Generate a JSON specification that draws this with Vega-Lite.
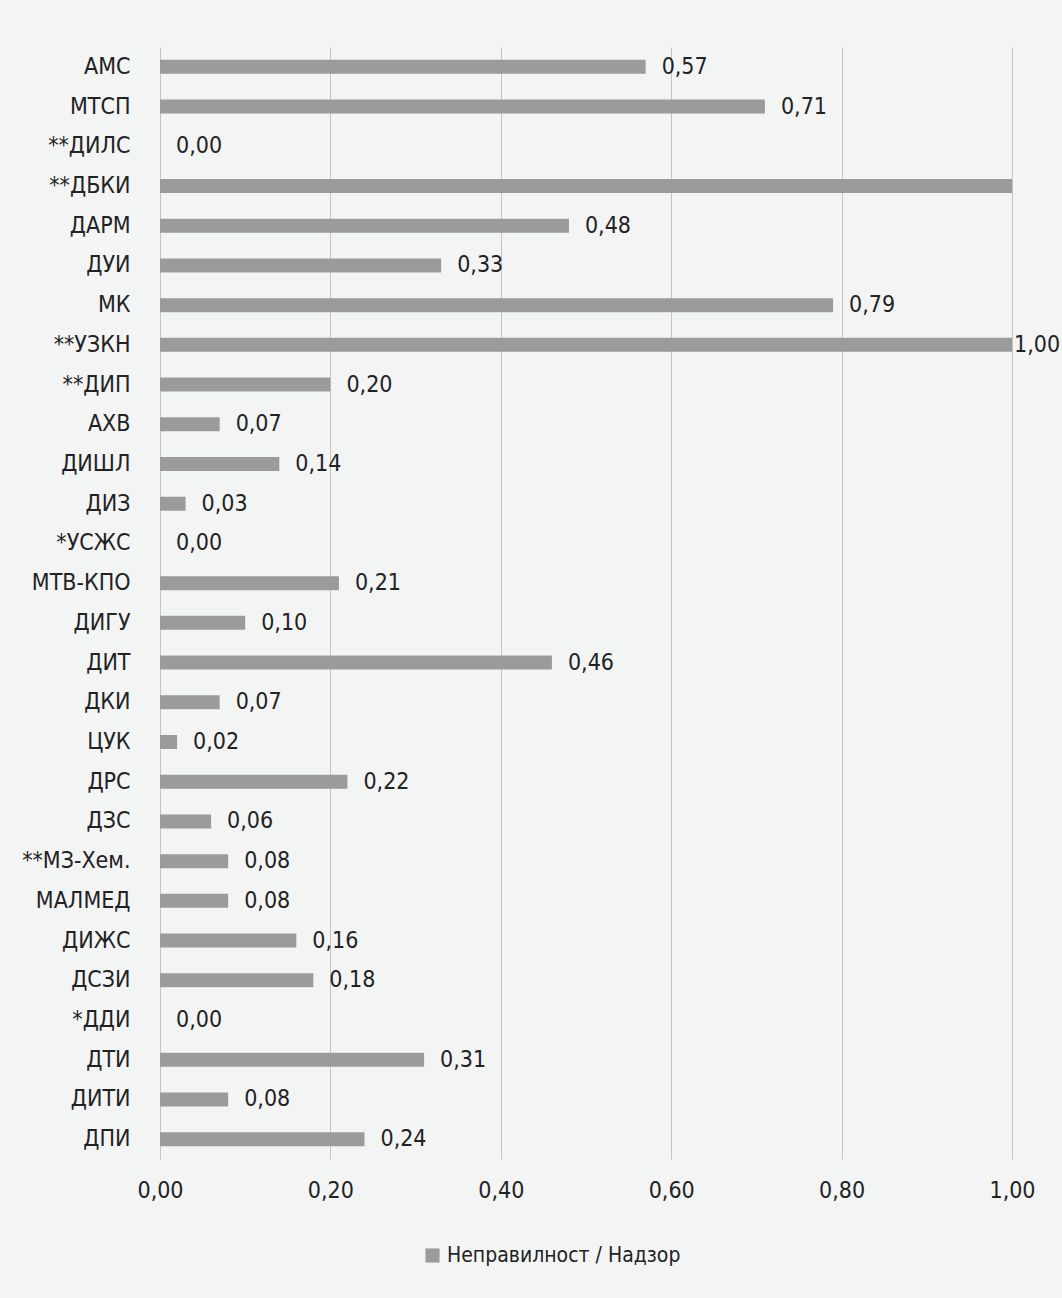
{
  "$schema": "https://vega.github.io/schema/vega-lite/v6.json",
  "autosize": {"type": "none"},
  "width": 852,
  "height": 1112,
  "padding": {"left": 160, "top": 47, "right": 50, "bottom": 139},
  "background": "#f3f4f4",
  "config": {
    "locale": {"number": {"decimal": ",", "thousands": ".", "grouping": [3], "currency": ["", ""]}},
    "font": "Liberation Sans Narrow, DejaVu Sans Condensed, sans-serif",
    "view": {"stroke": null}
  },
  "data": {
    "values": [
      {"category": "АМС", "value": 0.57, "series": "Неправилност / Надзор"},
      {"category": "МТСП", "value": 0.71, "series": "Неправилност / Надзор"},
      {"category": "**ДИЛС", "value": 0.0, "series": "Неправилност / Надзор"},
      {"category": "**ДБКИ", "value": 1.0, "series": "Неправилност / Надзор"},
      {"category": "ДАРМ", "value": 0.48, "series": "Неправилност / Надзор"},
      {"category": "ДУИ", "value": 0.33, "series": "Неправилност / Надзор"},
      {"category": "МК", "value": 0.79, "series": "Неправилност / Надзор"},
      {"category": "**УЗКН", "value": 1.0, "series": "Неправилност / Надзор"},
      {"category": "**ДИП", "value": 0.2, "series": "Неправилност / Надзор"},
      {"category": "АХВ", "value": 0.07, "series": "Неправилност / Надзор"},
      {"category": "ДИШЛ", "value": 0.14, "series": "Неправилност / Надзор"},
      {"category": "ДИЗ", "value": 0.03, "series": "Неправилност / Надзор"},
      {"category": "*УСЖС", "value": 0.0, "series": "Неправилност / Надзор"},
      {"category": "МТВ-КПО", "value": 0.21, "series": "Неправилност / Надзор"},
      {"category": "ДИГУ", "value": 0.1, "series": "Неправилност / Надзор"},
      {"category": "ДИТ", "value": 0.46, "series": "Неправилност / Надзор"},
      {"category": "ДКИ", "value": 0.07, "series": "Неправилност / Надзор"},
      {"category": "ЦУК", "value": 0.02, "series": "Неправилност / Надзор"},
      {"category": "ДРС", "value": 0.22, "series": "Неправилност / Надзор"},
      {"category": "ДЗС", "value": 0.06, "series": "Неправилност / Надзор"},
      {"category": "**МЗ-Хем.", "value": 0.08, "series": "Неправилност / Надзор"},
      {"category": "МАЛМЕД", "value": 0.08, "series": "Неправилност / Надзор"},
      {"category": "ДИЖС", "value": 0.16, "series": "Неправилност / Надзор"},
      {"category": "ДСЗИ", "value": 0.18, "series": "Неправилност / Надзор"},
      {"category": "*ДДИ", "value": 0.0, "series": "Неправилност / Надзор"},
      {"category": "ДТИ", "value": 0.31, "series": "Неправилност / Надзор"},
      {"category": "ДИТИ", "value": 0.08, "series": "Неправилност / Надзор"},
      {"category": "ДПИ", "value": 0.24, "series": "Неправилност / Надзор"}
    ]
  },
  "encoding": {
    "y": {
      "field": "category", "type": "nominal", "sort": null, "title": null,
      "axis": {"domain": false, "ticks": false, "grid": false, "labelFontSize": 23, "labelPadding": 30, "labelColor": "#222222", "labelLimit": 300}
    },
    "x": {
      "field": "value", "type": "quantitative", "title": null,
      "scale": {"domain": [0, 1]},
      "axis": {"values": [0, 0.2, 0.4, 0.6, 0.8, 1], "format": ".2f", "domain": false, "ticks": false, "grid": true, "gridColor": "#c4c4c4", "gridWidth": 1, "labelFontSize": 23, "labelPadding": 20, "labelColor": "#222222", "labelFlush": false}
    }
  },
  "layer": [
    {
      "mark": {"type": "bar", "size": 14},
      "encoding": {
        "color": {
          "field": "series", "type": "nominal", "title": null,
          "scale": {"range": ["#9b9b9b"]},
          "legend": {"orient": "none", "legendX": 262, "legendY": 1198, "direction": "horizontal", "labelFontSize": 21, "labelColor": "#222222", "symbolType": "square", "symbolSize": 200, "labelLimit": 400}
        }
      }
    },
    {
      "transform": [{"filter": "datum.value < 1"}],
      "mark": {"type": "text", "align": "left", "baseline": "middle", "dx": 16, "fontSize": 23, "color": "#222222"},
      "encoding": {
        "text": {"field": "value", "type": "quantitative", "format": ".2f"}
      }
    },
    {
      "transform": [{"filter": "datum.category === '**УЗКН'"}],
      "mark": {"type": "text", "align": "left", "baseline": "middle", "dx": 2, "fontSize": 23, "color": "#222222"},
      "encoding": {
        "text": {"field": "value", "type": "quantitative", "format": ".2f"}
      }
    }
  ]
}
